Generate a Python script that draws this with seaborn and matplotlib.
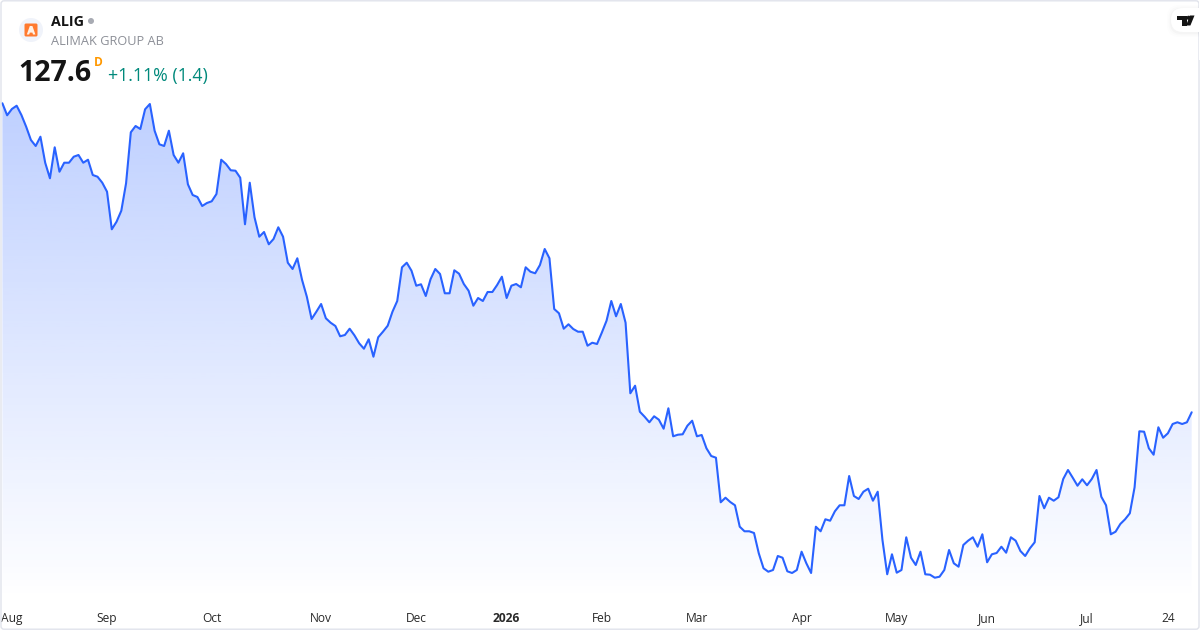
import numpy as np
import pandas as pd
import seaborn as sns
import matplotlib
matplotlib.use("Agg")
import matplotlib.pyplot as plt
from matplotlib.patches import FancyBboxPatch, Circle, Polygon, Rectangle

prices = [
 170.86,169.18,170.06,170.52,169.22,167.58,165.72,164.88,166.18,162.54,
 160.36,164.70,161.28,162.54,162.54,163.38,163.62,162.54,162.96,160.82,
 160.58,159.74,158.48,153.22,154.28,155.82,159.66,166.80,167.68,167.26,
 170.02,170.76,167.02,165.12,164.88,167.02,163.62,162.54,163.86,159.52,
 158.02,157.74,156.48,156.90,157.14,158.16,162.96,162.36,161.48,161.42,
 160.44,153.92,159.74,154.90,152.18,152.84,151.12,151.86,153.50,152.18,
 148.54,147.66,149.16,146.12,143.78,140.66,141.68,142.76,140.76,140.14,
 139.68,138.24,138.42,139.30,138.38,137.26,136.50,137.82,135.38,138.10,
 138.88,139.72,141.68,143.18,147.90,148.54,147.42,145.32,145.52,143.88,
 146.22,147.66,146.96,144.26,144.26,147.48,147.00,145.56,144.62,142.52,
 143.60,143.18,144.44,144.44,145.42,146.58,143.60,145.32,145.56,145.10,
 147.90,147.28,147.06,148.22,150.46,149.16,142.06,141.46,139.30,139.92,
 139.26,138.88,138.88,136.92,137.34,137.16,138.74,140.42,143.18,141.04,
 142.76,140.14,130.26,131.32,127.68,126.98,126.20,127.04,126.56,125.30,
 128.16,124.24,124.46,124.52,125.72,126.42,124.24,124.42,122.56,121.48,
 121.24,115.00,115.64,115.04,114.58,111.58,110.94,110.94,110.70,107.86,
 105.76,105.28,105.52,107.48,107.24,105.34,105.10,105.52,108.08,106.46,
 105.10,111.58,110.94,112.62,112.42,113.74,114.58,114.58,118.68,115.88,
 115.46,116.48,116.90,115.22,116.48,109.72,104.92,107.72,105.14,105.52,
 110.10,107.24,106.22,108.08,104.92,104.86,104.44,104.58,105.52,108.32,
 106.46,105.98,109.02,109.62,110.10,108.78,110.52,106.60,107.72,107.90,
 108.78,107.94,110.10,109.62,108.18,107.48,108.56,109.40,115.88,114.16,
 115.64,115.22,115.70,118.26,119.52,118.44,117.32,118.22,117.38,118.26,
 119.52,115.78,114.58,110.52,110.88,111.96,112.62,113.46,117.10,124.94,
 124.88,122.56,121.66,125.50,124.04,124.66,125.96,126.20,125.96,126.20,
 127.60,
]
tick_positions = [2, 22, 44, 67, 87, 106, 126, 146, 168, 188, 207, 228, 245]
tick_labels = ["Aug", "Sep", "Oct", "Nov", "Dec", "2026", "Feb", "Mar", "Apr", "May", "Jun", "Jul", "24"]
symbol = "ALIG"
company = "ALIMAK GROUP AB"
last_price = "127.6"
interval = "D"
change = "+1.11% (1.4)"

sns.set_theme(style="white")
plt.rcParams["font.family"] = ["Open Sans", "DejaVu Sans"]

df = pd.DataFrame({"session": np.arange(len(prices)), "price": prices})

fig = plt.figure(figsize=(12, 6.3), dpi=100, facecolor="white")
ax = fig.add_axes([0, 30 / 630, 1, 600 / 630], facecolor="none")

LINE = "#2962FF"
INK = "#141414"
x_lim = (-0.5, 251.75)
y_lim = (101.32, 185.32)

# gradient area under the line
fill = ax.fill_between(df["session"], df["price"], y_lim[0], color="none", lw=0)
grad = np.zeros((256, 1, 4))
grad[..., 0] = 41 / 255
grad[..., 1] = 98 / 255
grad[..., 2] = 1.0
grad[..., 3] = np.linspace(0.30, 0.0, 256)[:, None]
img = ax.imshow(grad, aspect="auto", extent=(x_lim[0], x_lim[1], y_lim[0], max(prices)),
                origin="upper", interpolation="bilinear", zorder=1)
img.set_clip_path(fill.get_paths()[0], ax.transData)

sns.lineplot(data=df, x="session", y="price", ax=ax, color=LINE, lw=1.5,
             errorbar=None, zorder=3, solid_joinstyle="round")

ax.set_xlim(*x_lim)
ax.set_ylim(*y_lim)
ax.set_xlabel("")
ax.set_ylabel("")
ax.set_yticks([])
ax.set_xticks(tick_positions)
ax.set_xticklabels(tick_labels, fontsize=8.64, color="#2A2A2A", va="baseline")
ax.tick_params(axis="x", length=0, pad=15.9)
ax.get_xticklabels()[tick_labels.index("2026")].set_fontweight("bold")
sns.despine(ax=ax, left=True, bottom=True, top=True, right=True)

# header overlay in pixel units
ov = fig.add_axes([0, 0, 1, 1], facecolor="none")
ov.set_xlim(0, 1200)
ov.set_ylim(630, 0)
ov.axis("off")

ov.add_patch(FancyBboxPatch((1, 0.8), 1198, 628.4, boxstyle="round,pad=0,rounding_size=3",
                            fc="none", ec="#E0E3EB", lw=1.0))

# instrument logo
ov.add_patch(Circle((31, 30), 12, fc="#F0F3FA", ec="none"))
ov.add_patch(FancyBboxPatch((24.5, 23.5), 13, 13, boxstyle="round,pad=0,rounding_size=1.5",
                            fc="#FF7A2F", ec="none"))
ov.add_patch(Polygon([(26.8, 34.5), (29.8, 26), (32.4, 26), (35.4, 34.5), (33, 34.5),
                      (32.4, 32.6), (29.8, 32.6), (29.2, 34.5)], closed=True, fc="#FFF1E6", ec="none"))

ov.text(51, 26, symbol, fontsize=10.3, fontweight="bold", color=INK, va="baseline", ha="left")
ov.add_patch(Circle((91, 21), 3, fc="#A8ABB3", ec="none"))
ov.text(51, 45, company, fontsize=9.17, color="#8C8F97", va="baseline", ha="left")
ov.text(18.5, 81, last_price, fontsize=20.6, fontweight="bold", color=INK, va="baseline", ha="left")
ov.text(93.5, 65.7, interval, fontsize=8.6, fontweight="bold", color="#FF9800", va="baseline", ha="left")
ov.text(108, 80.5, change, fontsize=12.8, color="#00897B", va="baseline", ha="left")

# TradingView badge
for grow, a in [(4, 0.008), (2.5, 0.012), (1.2, 0.018)]:
    ov.add_patch(FancyBboxPatch((1171 - grow, 8 - grow + 1), 50 + grow * 2, 24 + grow * 2,
                                boxstyle="round,pad=0,rounding_size=12", fc="#000000", alpha=a, ec="none"))
ov.add_patch(FancyBboxPatch((1171, 8), 50, 24, boxstyle="round,pad=0,rounding_size=12",
                            fc="white", ec="none", zorder=4))
ov.add_patch(Rectangle((1198.5, 0), 1.5, 60, fc="white", ec="none", zorder=5))
ov.add_patch(Polygon([(1177, 15.5), (1186.5, 15.5), (1186.5, 25.5), (1182, 25.5), (1182, 19.8), (1177, 19.8)],
                     closed=True, fc=INK, ec="none", zorder=6))
ov.add_patch(Circle((1188.6, 17.8), 2.1, fc=INK, ec="none", zorder=6))
ov.add_patch(Polygon([(1190, 15.5), (1194.5, 15.5), (1190.4, 25.5), (1186, 25.5)], closed=True,
                     fc=INK, ec="none", zorder=6))

fig.savefig("out.png", dpi=100)
